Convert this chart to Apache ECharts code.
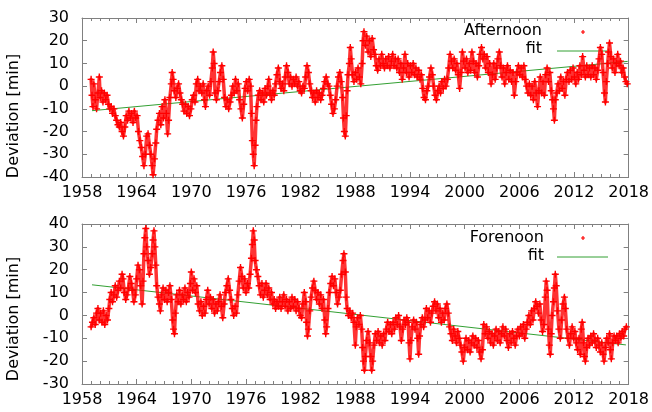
<!DOCTYPE html>
<html><head><meta charset="utf-8">
<script src="https://cdn.jsdelivr.net/npm/echarts@6/dist/echarts.min.js"></script>
<style>html,body{margin:0;padding:0;background:#fff}#c{width:652px;height:412px}</style>
</head><body><div id="c"></div>
<script>
// x axis (years)
const xMin = 1958, xMax = 2018, xStep = 6;
// y axes
const yTop = {min: -40, max: 30, step: 10};
const yBot = {min: -30, max: 40, step: 10};
const yTitle = 'Deviation [min]';
const legendTop = ['Afternoon', 'fit'];
const legendBot = ['Forenoon', 'fit'];

// Afternoon deviations [year, minutes]
const afternoon = [
[1959.0,3],[1959.1,-4],[1959.2,-9],[1959.3,1],[1959.45,-6],[1959.6,-10],[1959.75,-3],[1959.9,4],[1960.0,-5],[1960.15,-2],[1960.3,-7],[1960.45,-3],[1960.6,-6],[1960.75,-4],[1960.9,-8],
[1961.05,-10],[1961.2,-9],[1961.35,-12],[1961.5,-10],[1961.65,-13],[1961.8,-15],[1961.95,-17],[1962.1,-18],[1962.25,-16],[1962.4,-20],[1962.55,-22],[1962.7,-18],[1962.85,-13],
[1963.0,-15],[1963.15,-11],[1963.3,-14],[1963.45,-12],[1963.6,-16],[1963.75,-11],[1963.9,-14],[1964.05,-13],[1964.2,-20],[1964.35,-24],[1964.5,-27],[1964.65,-31],[1964.8,-35],[1964.95,-30],
[1965.1,-22],[1965.25,-21],[1965.4,-26],[1965.55,-30],[1965.7,-35],[1965.8,-39],[1965.95,-32],[1966.1,-25],[1966.2,-19],[1966.35,-15],[1966.5,-12],[1966.65,-17],[1966.8,-9],[1966.95,-14],
[1967.1,-6],[1967.25,-12],[1967.4,-21],[1967.5,-15],[1967.65,-5],[1967.8,1],[1967.9,6],[1968.0,3],[1968.15,-2],[1968.3,-5],[1968.45,-1],[1968.6,1],[1968.75,-3],[1968.9,-6],
[1969.05,-8],[1969.2,-11],[1969.35,-8],[1969.5,-12],[1969.65,-9],[1969.8,-13],[1969.95,-10],[1970.1,-6],[1970.25,-4],[1970.4,-7],[1970.55,1],[1970.7,3],[1970.85,-2],
[1971.0,0],[1971.15,-3],[1971.3,1],[1971.45,-6],[1971.55,-9],[1971.7,-2],[1971.85,0],[1972.0,-4],[1972.15,2],[1972.3,8],[1972.4,15],[1972.5,10],[1972.6,-3],[1972.75,-6],[1972.9,-2],
[1973.05,2],[1973.2,6],[1973.35,9],[1973.5,3],[1973.65,-5],[1973.8,-9],[1973.95,-6],[1974.1,-10],[1974.25,-7],[1974.4,-4],[1974.55,0],[1974.7,-3],[1974.85,3],
[1975.0,-2],[1975.15,1],[1975.3,-6],[1975.45,-10],[1975.6,-14],[1975.75,-8],[1975.9,-1],[1976.05,2],[1976.2,-2],[1976.35,3],[1976.5,0],[1976.6,-12],[1976.7,-24],[1976.8,-30],[1976.9,-35],
[1977.0,-26],[1977.1,-15],[1977.2,-9],[1977.35,-4],[1977.5,-2],[1977.65,-6],[1977.8,-3],[1977.95,-7],[1978.1,-1],[1978.25,-4],[1978.4,0],[1978.5,3],[1978.65,-3],[1978.8,-6],[1978.95,-2],
[1979.1,-4],[1979.25,1],[1979.4,5],[1979.55,8],[1979.7,2],[1979.85,-1],[1980.0,1],[1980.15,-2],[1980.3,4],[1980.45,9],[1980.6,6],[1980.75,1],[1980.9,4],
[1981.05,0],[1981.2,3],[1981.35,1],[1981.5,4],[1981.65,0],[1981.8,2],[1981.95,-2],[1982.1,-3],[1982.25,0],[1982.4,-1],[1982.55,4],[1982.7,9],[1982.85,6],
[1983.0,1],[1983.15,-2],[1983.3,-5],[1983.45,-3],[1983.6,-7],[1983.75,-2],[1983.9,-5],[1984.05,-3],[1984.2,-6],[1984.35,-4],[1984.5,-1],[1984.65,2],[1984.8,4],[1984.95,1],
[1985.1,0],[1985.25,-4],[1985.4,-8],[1985.55,-12],[1985.7,-10],[1985.85,-6],[1986.0,0],[1986.15,4],[1986.3,6],[1986.45,2],[1986.6,-5],[1986.7,-14],[1986.8,-20],[1986.9,-22],
[1987.0,-13],[1987.1,-2],[1987.2,5],[1987.35,10],[1987.45,17],[1987.55,12],[1987.7,5],[1987.85,2],[1988.0,6],[1988.15,3],[1988.3,8],[1988.45,4],[1988.6,1],[1988.75,10],[1988.85,20],[1988.95,24],
[1989.1,18],[1989.25,22],[1989.4,15],[1989.55,20],[1989.7,13],[1989.85,21],[1990.0,16],[1990.15,14],[1990.3,9],[1990.45,7],[1990.6,12],[1990.75,9],[1990.9,14],
[1991.05,10],[1991.2,8],[1991.35,12],[1991.5,9],[1991.65,13],[1991.8,8],[1991.95,11],[1992.1,14],[1992.25,9],[1992.4,12],[1992.55,8],[1992.7,12],[1992.85,6],
[1993.0,10],[1993.15,3],[1993.3,8],[1993.45,14],[1993.6,6],[1993.75,10],[1993.9,4],[1994.05,9],[1994.2,6],[1994.35,10],[1994.5,5],[1994.65,8],[1994.8,4],[1994.95,7],
[1995.1,3],[1995.25,5],[1995.4,-1],[1995.55,-5],[1995.7,-6],[1995.85,-2],[1996.0,0],[1996.15,4],[1996.3,8],[1996.45,5],[1996.6,0],[1996.75,-4],[1996.9,-6],
[1997.05,-2],[1997.2,0],[1997.35,-3],[1997.5,2],[1997.65,-1],[1997.8,3],[1997.95,0],[1998.1,3],[1998.25,8],[1998.4,14],[1998.55,11],[1998.7,8],[1998.85,12],
[1999.0,7],[1999.15,10],[1999.3,5],[1999.45,-1],[1999.6,6],[1999.75,15],[1999.9,11],[2000.05,8],[2000.2,12],[2000.35,6],[2000.5,10],[2000.65,7],[2000.8,15],[2000.95,11],
[2001.1,6],[2001.25,10],[2001.4,4],[2001.55,9],[2001.7,14],[2001.85,17],[2002.0,12],[2002.15,14],[2002.3,8],[2002.45,13],[2002.6,6],[2002.75,10],[2002.9,1],
[2003.05,5],[2003.2,10],[2003.35,3],[2003.5,8],[2003.65,12],[2003.8,15],[2003.95,9],[2004.1,4],[2004.25,8],[2004.4,1],[2004.55,6],[2004.7,9],[2004.85,3],
[2005.0,7],[2005.15,2],[2005.3,6],[2005.45,-4],[2005.6,2],[2005.75,6],[2005.9,9],[2006.05,5],[2006.2,8],[2006.35,4],[2006.5,9],[2006.65,3],[2006.8,0],[2006.95,-3],
[2007.1,1],[2007.25,-4],[2007.4,0],[2007.55,-6],[2007.7,2],[2007.85,-3],[2008.0,-9],[2008.15,-2],[2008.3,4],[2008.45,-3],[2008.6,2],[2008.75,-4],[2008.9,5],
[2009.05,8],[2009.2,2],[2009.35,6],[2009.5,-2],[2009.65,-6],[2009.75,-10],[2009.85,-15],[2009.95,-6],[2010.1,-3],[2010.25,1],[2010.4,-2],[2010.55,4],[2010.7,-1],[2010.85,2],
[2011.0,-4],[2011.15,3],[2011.3,6],[2011.45,2],[2011.6,7],[2011.75,3],[2011.9,8],[2012.05,4],[2012.2,1],[2012.35,6],[2012.5,3],[2012.65,9],[2012.8,5],[2012.95,13],
[2013.1,7],[2013.25,4],[2013.4,9],[2013.55,5],[2013.7,8],[2013.85,4],[2014.0,9],[2014.15,5],[2014.3,8],[2014.45,3],[2014.6,7],[2014.75,12],[2014.9,17],
[2015.05,14],[2015.2,6],[2015.35,-3],[2015.45,-7],[2015.55,2],[2015.7,10],[2015.8,15],[2015.9,19],[2016.05,13],[2016.2,8],[2016.35,12],[2016.5,6],[2016.65,10],[2016.8,14],[2016.95,9],
[2017.1,11],[2017.25,6],[2017.4,8],[2017.55,4],[2017.7,2],[2017.85,1]
];
const afternoonFit = [[1959.1,-10.8],[2017.9,10.9]];

// Forenoon deviations [year, minutes]
const forenoon = [
[1959.0,-5],[1959.15,-3],[1959.3,-1],[1959.45,-4],[1959.6,1],[1959.75,3],[1959.9,-2],[1960.05,1],[1960.2,-3],[1960.35,2],[1960.5,-4],[1960.65,0],[1960.8,-2],[1960.95,3],
[1961.05,7],[1961.2,10],[1961.35,6],[1961.5,9],[1961.65,13],[1961.8,8],[1961.95,11],[1962.1,15],[1962.25,12],[1962.4,18],[1962.5,16],[1962.65,10],[1962.8,7],[1962.95,9],
[1963.1,12],[1963.25,17],[1963.4,14],[1963.55,11],[1963.7,6],[1963.85,9],[1964.0,16],[1964.15,22],[1964.3,20],[1964.45,13],[1964.6,5],[1964.7,15],[1964.8,27],[1964.9,34],
[1965.0,38],[1965.1,30],[1965.25,24],[1965.4,18],[1965.55,21],[1965.7,27],[1965.8,33],[1965.9,37],[1966.0,30],[1966.1,22],[1966.2,13],[1966.35,8],[1966.5,5],[1966.6,2],[1966.75,9],[1966.9,12],
[1967.05,7],[1967.2,11],[1967.35,6],[1967.5,10],[1967.65,13],[1967.8,7],[1967.95,-2],[1968.05,-6],[1968.15,-8],[1968.25,1],[1968.4,9],[1968.55,6],[1968.7,11],[1968.85,5],
[1969.0,9],[1969.15,7],[1969.3,12],[1969.45,6],[1969.6,10],[1969.75,8],[1969.9,14],[1970.0,19],[1970.15,11],[1970.3,16],[1970.45,10],[1970.6,13],[1970.75,5],[1970.9,2],
[1971.05,6],[1971.2,0],[1971.35,4],[1971.5,1],[1971.65,7],[1971.8,11],[1971.95,5],[1972.1,8],[1972.25,3],[1972.4,7],[1972.55,1],[1972.7,5],[1972.85,2],
[1973.0,6],[1973.15,9],[1973.3,4],[1973.45,-1],[1973.6,5],[1973.75,10],[1973.9,13],[1974.05,16],[1974.2,11],[1974.35,7],[1974.5,3],[1974.65,0],[1974.8,4],[1974.95,1],
[1975.1,9],[1975.25,15],[1975.4,21],[1975.55,17],[1975.7,12],[1975.85,16],[1976.0,10],[1976.15,14],[1976.3,12],[1976.45,18],[1976.6,25],[1976.7,31],[1976.8,37],[1976.9,33],
[1977.0,24],[1977.15,20],[1977.3,17],[1977.45,13],[1977.6,9],[1977.75,14],[1977.9,8],[1978.05,11],[1978.2,14],[1978.35,9],[1978.5,12],[1978.65,7],[1978.8,10],[1978.95,5],
[1979.1,7],[1979.25,3],[1979.4,6],[1979.55,4],[1979.7,8],[1979.85,3],[1980.0,6],[1980.15,9],[1980.3,4],[1980.45,7],[1980.6,2],[1980.75,6],[1980.9,3],
[1981.05,8],[1981.2,4],[1981.35,7],[1981.5,2],[1981.65,6],[1981.8,3],[1981.95,0],[1982.1,-1],[1982.25,5],[1982.4,10],[1982.55,6],[1982.65,-3],[1982.75,-9],[1982.85,-6],
[1983.0,2],[1983.15,8],[1983.3,12],[1983.45,15],[1983.6,11],[1983.75,7],[1983.9,10],[1984.05,5],[1984.2,9],[1984.35,3],[1984.5,7],[1984.65,-2],[1984.75,-8],[1984.85,-5],
[1985.0,3],[1985.15,10],[1985.3,14],[1985.45,17],[1985.6,13],[1985.75,16],[1985.9,10],[1986.05,5],[1986.2,8],[1986.35,11],[1986.5,18],[1986.65,24],[1986.75,27],[1986.9,19],
[1987.0,8],[1987.1,3],[1987.25,0],[1987.4,2],[1987.55,-1],[1987.7,1],[1987.85,-3],[1988.0,-13],[1988.1,-5],[1988.25,-1],[1988.4,-4],[1988.55,0],[1988.7,-6],[1988.8,-14],[1988.9,-20],
[1989.0,-24],[1989.1,-18],[1989.25,-11],[1989.4,-7],[1989.55,-12],[1989.7,-18],[1989.8,-24],[1989.9,-20],[1990.05,-13],[1990.2,-8],[1990.35,-11],[1990.5,-7],[1990.65,-12],[1990.8,-9],[1990.95,-13],
[1991.1,-8],[1991.25,-11],[1991.4,-6],[1991.55,-3],[1991.7,-7],[1991.85,-4],[1992.0,-8],[1992.15,-3],[1992.3,-6],[1992.45,-1],[1992.6,-4],[1992.75,0],[1992.9,-5],
[1993.05,-11],[1993.2,-6],[1993.35,-2],[1993.5,-4],[1993.65,-1],[1993.8,-3],[1993.9,-12],[1994.0,-19],[1994.1,-11],[1994.25,-5],[1994.4,-2],[1994.55,-6],[1994.7,-3],[1994.85,-10],[1994.95,-17],
[1995.05,-9],[1995.2,-4],[1995.35,-1],[1995.5,-5],[1995.65,-2],[1995.8,3],[1995.95,-1],[1996.1,2],[1996.25,-3],[1996.4,1],[1996.55,4],[1996.7,6],[1996.85,2],
[1997.0,5],[1997.15,-1],[1997.3,3],[1997.45,-3],[1997.6,1],[1997.75,-2],[1997.9,3],[1998.05,5],[1998.2,1],[1998.35,-5],[1998.5,-8],[1998.65,-11],[1998.8,-6],[1998.95,-9],
[1999.1,-12],[1999.25,-7],[1999.4,-10],[1999.55,-13],[1999.7,-16],[1999.85,-20],[2000.0,-14],[2000.15,-10],[2000.3,-15],[2000.45,-11],[2000.6,-16],[2000.75,-12],[2000.9,-9],
[2001.05,-13],[2001.2,-10],[2001.35,-14],[2001.5,-11],[2001.65,-16],[2001.8,-19],[2001.95,-15],[2002.1,-4],[2002.25,-8],[2002.4,-5],[2002.55,-10],[2002.7,-7],[2002.85,-12],
[2003.0,-8],[2003.15,-13],[2003.3,-9],[2003.45,-6],[2003.6,-11],[2003.75,-7],[2003.9,-12],[2004.05,-8],[2004.2,-5],[2004.35,-9],[2004.5,-6],[2004.65,-11],[2004.8,-14],[2004.95,-8],
[2005.1,-12],[2005.25,-7],[2005.4,-10],[2005.55,-13],[2005.7,-9],[2005.85,-6],[2006.0,-9],[2006.15,-5],[2006.3,-8],[2006.45,-4],[2006.6,-10],[2006.75,-6],[2006.9,-3],
[2007.05,0],[2007.2,-4],[2007.35,2],[2007.5,-2],[2007.65,3],[2007.8,6],[2007.95,4],[2008.1,1],[2008.25,5],[2008.4,-2],[2008.55,-7],[2008.7,-4],[2008.85,8],[2008.95,15],
[2009.05,11],[2009.2,-6],[2009.3,-13],[2009.4,-17],[2009.5,-8],[2009.6,0],[2009.75,6],[2009.85,12],[2009.95,18],[2010.05,13],[2010.2,2],[2010.35,-6],[2010.5,-10],[2010.65,-2],[2010.8,5],[2010.95,8],
[2011.05,3],[2011.2,-6],[2011.35,-10],[2011.5,-13],[2011.65,-8],[2011.8,-5],[2011.95,-10],[2012.1,-7],[2012.25,-12],[2012.4,-15],[2012.55,-10],[2012.7,-17],[2012.8,-6],[2012.9,-3],
[2013.05,-12],[2013.15,-18],[2013.25,-20],[2013.4,-14],[2013.55,-10],[2013.7,-13],[2013.85,-9],[2014.0,-12],[2014.15,-8],[2014.3,-11],[2014.45,-14],[2014.6,-10],[2014.75,-13],[2014.9,-16],
[2015.05,-12],[2015.2,-17],[2015.3,-20],[2015.45,-14],[2015.6,-10],[2015.75,-12],[2015.9,-8],[2016.0,-15],[2016.1,-19],[2016.25,-12],[2016.4,-9],[2016.55,-11],[2016.7,-9],[2016.85,-12],
[2017.0,-8],[2017.15,-10],[2017.3,-7],[2017.45,-9],[2017.6,-6],[2017.75,-5]
];
const forenoonFit = [[1959.1,13.4],[2017.7,-12.9]];

const FONT = 'DejaVu Sans';
const BORDER = '#808080';
const RED = '#ff0000';
const GREEN = '#33a033';
const PLUS = 'path://M4,0H6V4H10V6H6V10H4V6H0V4H4Z';

function xAx(grid, pos, labels) {
  return {
    type: 'value', gridIndex: grid, position: pos, min: xMin, max: xMax, interval: xStep,
    axisLine: {show: true, onZero: false, lineStyle: {color: BORDER, width: 1}},
    axisTick: {show: true, inside: true, length: 5, lineStyle: {color: BORDER}},
    minorTick: {show: true, splitNumber: 6, length: 3, lineStyle: {color: BORDER}},
    axisLabel: {show: labels, color: '#000', fontSize: 16, fontFamily: FONT, margin: 8, formatter: v => String(v)},
    splitLine: {show: false}, minorSplitLine: {show: false}
  };
}
function yAx(grid, pos, r, labels) {
  return {
    type: 'value', gridIndex: grid, position: pos, min: r.min, max: r.max, interval: r.step,
    axisLine: {show: true, onZero: false, lineStyle: {color: BORDER, width: 1}},
    axisTick: {show: true, inside: true, length: 5, lineStyle: {color: BORDER}},
    axisLabel: {show: labels, color: '#000', fontSize: 16, fontFamily: FONT, margin: 13, formatter: v => String(v)},
    splitLine: {show: false}
  };
}
function legendEls(names, tx, ty1, ty2, mx, my, lx1, lx2, ly) {
  return [
    {type: 'text', z: 1, x: tx, y: ty1, style: {text: names[0], font: '16px ' + FONT, fill: '#000', textAlign: 'right', textVerticalAlign: 'middle'}},
    {type: 'text', z: 1, x: tx, y: ty2, style: {text: names[1], font: '16px ' + FONT, fill: '#000', textAlign: 'right', textVerticalAlign: 'middle'}},
    {type: 'polygon', z: 1, shape: {points: [[mx-0.6,my-2],[mx+0.6,my-2],[mx+0.6,my-0.6],[mx+2,my-0.6],[mx+2,my+0.6],[mx+0.6,my+0.6],[mx+0.6,my+2],[mx-0.6,my+2],[mx-0.6,my+0.6],[mx-2,my+0.6],[mx-2,my-0.6],[mx-0.6,my-0.6]]}, style: {fill: RED}},
    {type: 'line', z: 1, shape: {x1: lx1, y1: ly, x2: lx2, y2: ly}, style: {stroke: GREEN, lineWidth: 1}}
  ];
}
function trace(xi, yi, data) {
  // dense observations drawn as a continuous trace under the '+' markers
  return {type: 'line', xAxisIndex: xi, yAxisIndex: yi, data: data, showSymbol: false, symbol: 'none',
          lineStyle: {color: RED, width: 3.5, opacity: 0.8, join: 'round', cap: 'round'}, z: 3, silent: true};
}
function marks(xi, yi, data) {
  return {type: 'scatter', xAxisIndex: xi, yAxisIndex: yi, data: data, symbol: PLUS, symbolSize: 7,
          itemStyle: {color: RED, opacity: 1}, z: 4, silent: true};
}
function fit(xi, yi, data) {
  return {type: 'line', xAxisIndex: xi, yAxisIndex: yi, data: data, showSymbol: false, symbol: 'none',
          lineStyle: {color: GREEN, width: 1}, z: 2, silent: true};
}

const chart = echarts.init(document.getElementById('c'), null, {renderer: 'canvas'});
chart.setOption({
  animation: false,
  backgroundColor: '#fff',
  grid: [
    {left: 82, right: 21, top: 18, height: 159},
    {left: 82, right: 21, top: 224, height: 160}
  ],
  xAxis: [xAx(0, 'bottom', true), xAx(0, 'top', false), xAx(1, 'bottom', true), xAx(1, 'top', false)],
  yAxis: [yAx(0, 'left', yTop, true), yAx(0, 'right', yTop, false), yAx(1, 'left', yBot, true), yAx(1, 'right', yBot, false)],
  graphic: {elements: [
    {type: 'text', z: 1, x: 13.5, y: 116, rotation: Math.PI / 2, style: {text: yTitle, font: '16px ' + FONT, fill: '#000', textAlign: 'center', textVerticalAlign: 'middle'}},
    {type: 'text', z: 1, x: 13.5, y: 319, rotation: Math.PI / 2, style: {text: yTitle, font: '16px ' + FONT, fill: '#000', textAlign: 'center', textVerticalAlign: 'middle'}}
  ].concat(legendEls(legendTop, 542, 31, 49, 583, 32, 557, 607, 51))
   .concat(legendEls(legendBot, 544, 238, 256, 583, 238, 557, 608, 257))},
  series: [
    fit(0, 0, afternoonFit), trace(0, 0, afternoon), marks(0, 0, afternoon),
    fit(2, 2, forenoonFit), trace(2, 2, forenoon), marks(2, 2, forenoon)
  ]
});
</script></body></html>
